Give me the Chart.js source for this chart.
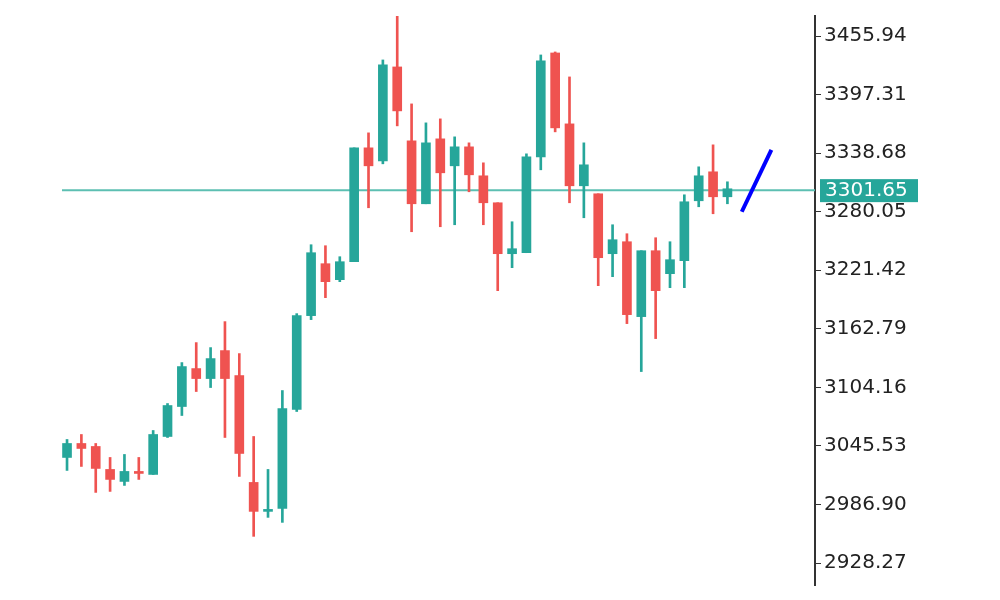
<!DOCTYPE html>
<html>
<head>
<meta charset="utf-8">
<script src="https://cdn.jsdelivr.net/npm/chart.js@4"></script>
<style>
  html, body { margin: 0; padding: 0; background: #fff; }
  #wrap { width: 1000px; height: 600px; }
</style>
</head>
<body>
<div id="wrap"><canvas id="candles"></canvas></div>
<script>
// candle values
var opens  = [3034,3048,3045,3022,3010,3020,3017,3055,3085,3123,3113,3141,3116,3009,2980,2983,3082,3176,3228,3212,3230,3344,3331,3425,3351,3288,3353,3326,3345,3316,3289,3238,3239,3335,3439,3368,3306,3298,3238,3250,3175,3241,3218,3231,3291,3320,3295];
var closes = [3048,3043,3023,3012,3020,3018,3057,3086,3125,3113,3133,3113,3038,2980,2982,3083,3176,3239,3210,3230,3344,3326,3427,3381,3288,3349,3319,3345,3317,3289,3238,3243,3335,3431,3364,3306,3327,3234,3252,3177,3241,3201,3232,3290,3316,3295,3303];
var highs  = [3052,3057,3048,3034,3037,3034,3061,3088,3129,3149,3144,3170,3138,3055,3022,3101,3178,3247,3246,3235,3344,3359,3432,3476,3388,3369,3373,3355,3349,3329,3289,3270,3338,3437,3440,3415,3349,3298,3267,3258,3241,3254,3250,3297,3325,3347,3310];
var lows   = [3021,3025,2999,3000,3006,3012,3017,3054,3076,3100,3104,3054,3015,2955,2974,2969,3080,3172,3194,3210,3230,3284,3328,3366,3260,3288,3265,3267,3300,3267,3201,3224,3239,3322,3360,3289,3274,3206,3215,3168,3120,3153,3204,3204,3285,3278,3288];
var yTicks = [3455.94, 3397.31, 3338.68, 3280.05, 3221.42, 3162.79, 3104.16, 3045.53, 2986.90, 2928.27];
var lastPrice = 3301.65;
var trendX = [47, 49.06];
var trendY = [3280, 3342];

var UP = '#26a69a', DOWN = '#ef5350';

function candleColor(i) { return closes[i] >= opens[i] ? UP : DOWN; }

var wicks = opens.map(function (o, i) { return { x: i, y: [lows[i], highs[i]] }; });
var bodies = opens.map(function (o, i) {
    var lo = Math.min(o, closes[i]), hi = Math.max(o, closes[i]);
    if (hi - lo < 2) hi = lo + 2;
    return { x: i, y: [lo, hi] };
});
var colors = opens.map(function (o, i) { return candleColor(i); });

var priceTag = {
    id: 'priceTag',
    afterDraw: function (chart) {
        var ctx = chart.ctx;
        var y = chart.scales.y.getPixelForValue(lastPrice);
        ctx.save();
        ctx.fillStyle = UP;
        ctx.fillRect(820, y - 11, 98, 23);
        ctx.fillStyle = '#ffffff';
        ctx.font = '20px "DejaVu Sans"';
        ctx.textBaseline = 'middle';
        ctx.fillText(lastPrice.toFixed(2), 825, y + 1);
        ctx.restore();
    }
};

new Chart(document.getElementById('candles'), {
    type: 'bar',
    data: {
        datasets: [
            { type: 'line', data: [{ x: -0.35, y: lastPrice }, { x: 52.1, y: lastPrice }], borderColor: '#5cbfb2', borderWidth: 2, pointRadius: 0, order: 3 },
            { data: wicks, backgroundColor: colors, barThickness: 2, grouped: false, order: 2 },
            { data: bodies, backgroundColor: colors, barThickness: 9, grouped: false, order: 1 },
            { type: 'line', data: [{ x: trendX[0], y: trendY[0] }, { x: trendX[1], y: trendY[1] }], borderColor: '#0000ff', borderWidth: 4, pointRadius: 0, order: 0 }
        ]
    },
    options: {
        responsive: true,
        maintainAspectRatio: false,
        animation: false,
        layout: { padding: { left: 62, top: 16, right: 0, bottom: 0 } },
        plugins: { legend: { display: false }, tooltip: { enabled: false } },
        scales: {
            x: { type: 'linear', offset: false, min: -0.35, max: 52.1, display: false },
            y: {
                position: 'right',
                min: 2906.3, max: 3476,
                afterBuildTicks: function (axis) { axis.ticks = yTicks.map(function (v) { return { value: v }; }); },
                afterFit: function (axis) { axis.width = 185; },
                grid: { drawOnChartArea: false, drawTicks: true, tickLength: 6, color: '#333' },
                border: { display: true, color: '#333', width: 2 },
                ticks: { color: '#222', padding: 3, font: { family: 'DejaVu Sans', size: 20 }, callback: function (v) { return Number(v).toFixed(2); } }
            }
        }
    },
    plugins: [priceTag]
});
</script>
</body>
</html>
